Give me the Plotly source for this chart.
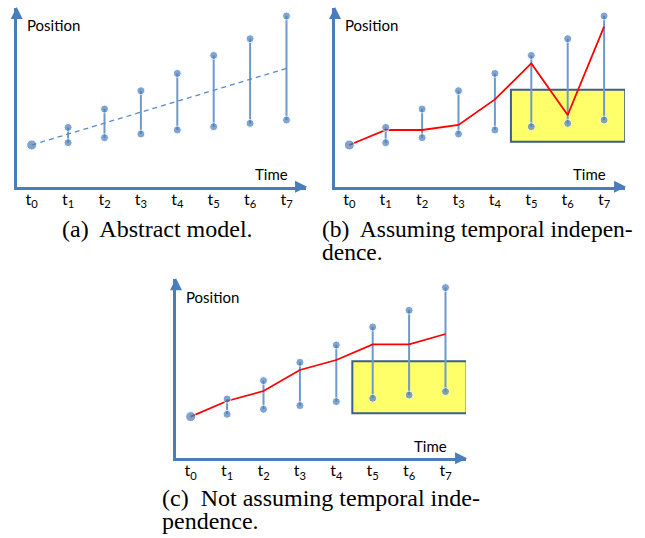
import plotly.graph_objects as go

# ---- data ----
time_steps = [0, 1, 2, 3, 4, 5, 6, 7]
tick_labels = ["t<sub>0</sub>", "t<sub>1</sub>", "t<sub>2</sub>", "t<sub>3</sub>",
               "t<sub>4</sub>", "t<sub>5</sub>", "t<sub>6</sub>", "t<sub>7</sub>"]
low_bound = [41.7, 44.0, 49.0, 52.7, 56.7, 60.0, 63.3, 66.7]
high_bound = [41.7, 59.3, 77.7, 96.0, 113.3, 131.3, 148.0, 170.7]
trend_x = [0, 7]
trend_y = [41.7, 118.3]
path_independent = [41.7, 56.7, 56.7, 61.7, 87.3, 123.3, 71.7, 160.0]
path_dependent = [41.7, 57.3, 67.3, 88.3, 98.3, 114.0, 114.0, 124.3]
box_x = [4.44, 7.58]
box_y = [45.0, 97.0]

AXIS_BLUE = "#4A7EBB"
DOT_BLUE = "#4A7EBB"
SEG_BLUE = "#6F99CC"
RED = "#FF0000"

W, H = 645, 538

# panel geometry (pixels): y-axis x position, x-axis end, x-axis y, y-axis top
panels = {
    "a": dict(x0=16.7, x1=306.0, ybot=186.7, ytop=8.0),
    "b": dict(x0=335.0, x1=625.0, ybot=186.7, ytop=8.0),
    "c": dict(x0=176.0, x1=466.0, ybot=458.3, ytop=279.3),
}
px_per_t = 36.4
t0_px = {"a": 31.7, "b": 349.3, "c": 190.7}

fig = go.Figure()
axis_ids = {"a": ("x", "y"), "b": ("x2", "y2"), "c": ("x3", "y3")}

layout = dict(width=W, height=H, margin=dict(l=0, r=0, t=0, b=0),
              paper_bgcolor="white", plot_bgcolor="white", showlegend=False)

label_font = dict(family="Lato, Calibri, sans-serif", size=15, color="black")
tick_font = dict(family="Lato, Calibri, sans-serif", size=16, color="black")
annotations = []
shapes = []

for key, (xa, ya) in axis_ids.items():
    p = panels[key]
    xr0 = (p["x0"] - t0_px[key]) / px_per_t
    xr1 = xr0 + (p["x1"] - p["x0"]) / px_per_t
    yr1 = p["ybot"] - p["ytop"]
    xname = "xaxis" if xa == "x" else "xaxis" + xa[1:]
    yname = "yaxis" if ya == "y" else "yaxis" + ya[1:]
    layout[xname] = dict(domain=[p["x0"] / W, p["x1"] / W], range=[xr0, xr1],
                         showgrid=False, zeroline=False, showline=True,
                         linecolor=AXIS_BLUE, linewidth=2.5,
                         tickmode="array", tickvals=time_steps, ticktext=tick_labels,
                         ticks="", tickfont=tick_font, anchor=ya,
                         ticklabelstandoff=-4)
    layout[yname] = dict(domain=[1 - p["ybot"] / H, 1 - p["ytop"] / H], range=[0, yr1],
                         showgrid=False, zeroline=False, showline=True,
                         linecolor=AXIS_BLUE, linewidth=2.5, showticklabels=False,
                         ticks="", anchor=xa)
    # arrowheads
    annotations.append(dict(xref=xa, yref=ya, axref=xa, ayref=ya, x=xr1 + 0.03, y=0,
                            ax=xr1 - 0.3, ay=0, showarrow=True, arrowhead=2,
                            arrowsize=1.2, arrowwidth=2, arrowcolor=AXIS_BLUE, text=""))
    annotations.append(dict(xref=xa, yref=ya, axref=xa, ayref=ya, x=xr0, y=yr1 + 1,
                            ax=xr0, ay=yr1 - 10, showarrow=True, arrowhead=2,
                            arrowsize=1.2, arrowwidth=2, arrowcolor=AXIS_BLUE, text=""))
    annotations.append(dict(xref=xa, yref=ya, x=xr0 + 0.22, y=161.5, xanchor="left",
                            yanchor="middle", text="Position", showarrow=False,
                            font=label_font))
    annotations.append(dict(xref=xa, yref=ya, x=7.1, y=12.7, xanchor="right",
                            yanchor="middle", text="Time", showarrow=False,
                            font=label_font))

    # box
    if key in ("b", "c"):
        shapes.append(dict(type="rect", xref=xa, yref=ya, x0=box_x[0], x1=box_x[1],
                           y0=box_y[0], y1=box_y[1], fillcolor="#FFFF6A",
                           line=dict(color="#3B5E8C", width=2), layer="below"))

    # vertical interval segments
    seg_x, seg_y = [], []
    for t, lo, hi in zip(time_steps[1:], low_bound[1:], high_bound[1:]):
        seg_x += [t, t, None]
        seg_y += [lo, hi, None]
    fig.add_trace(go.Scatter(x=seg_x, y=seg_y, mode="lines", xaxis=xa, yaxis=ya,
                             line=dict(color=SEG_BLUE, width=2), cliponaxis=False,
                             hoverinfo="skip"))
    if key == "a":
        fig.add_trace(go.Scatter(x=trend_x, y=trend_y, mode="lines", xaxis=xa, yaxis=ya,
                                 line=dict(color="#5B8AC6", width=1.3, dash="5px,4px"),
                                 cliponaxis=False))
    elif key == "b":
        fig.add_trace(go.Scatter(x=time_steps, y=path_independent, mode="lines",
                                 xaxis=xa, yaxis=ya, line=dict(color=RED, width=1.8),
                                 cliponaxis=False))
    else:
        fig.add_trace(go.Scatter(x=time_steps, y=path_dependent, mode="lines",
                                 xaxis=xa, yaxis=ya, line=dict(color=RED, width=1.8),
                                 cliponaxis=False))
    # dots
    dx = [time_steps[0]] + time_steps[1:] + time_steps[1:]
    dy = [low_bound[0]] + low_bound[1:] + high_bound[1:]
    dsize = [10] + [8] * 14
    fig.add_trace(go.Scatter(x=dx, y=dy, mode="markers", xaxis=xa, yaxis=ya,
                             marker=dict(color=DOT_BLUE, size=dsize), cliponaxis=False))

cap_font = dict(family="Liberation Serif, Times New Roman, serif", size=24, color="black")


def cap(x, y, text, anchor="left", size=24):
    f = dict(cap_font, size=size)
    annotations.append(dict(xref="paper", yref="paper", x=x / W, y=1 - y / H,
                            xanchor=anchor, yanchor="middle", text=text,
                            showarrow=False, font=f))


cap(157.5, 229, "(a)  Abstract model.", "center")
cap(320, 229, "(b)  Assuming temporal indepen-", size=23.5)
cap(320, 252, "dence.", size=23.5)
cap(160, 498, "(c)  Not assuming temporal inde-")
cap(160, 521, "pendence.")

layout["annotations"] = annotations
layout["shapes"] = shapes
fig.update_layout(**layout)
fig.write_html("out.html", config={"displayModeBar": False},
               post_script="document.body.style.margin='0';document.body.style.overflow='hidden';")
